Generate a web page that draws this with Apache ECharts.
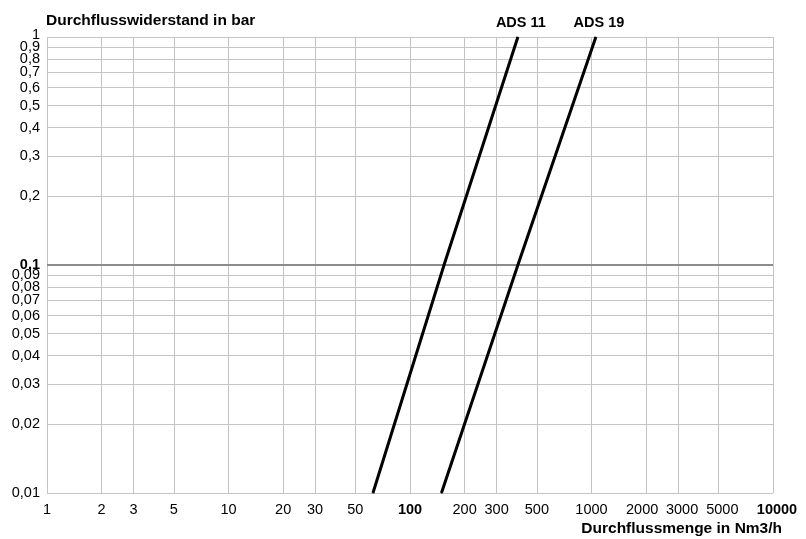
<!DOCTYPE html>
<html><head><meta charset="utf-8">
<script src="https://cdn.jsdelivr.net/npm/echarts@6/dist/echarts.min.js"></script>
<style>html,body{margin:0;padding:0;background:#fff}#c{width:806px;height:539px}</style>
</head><body><div id="c"></div>
<script>
// Tick / gridline values
const xTickValues = [1, 2, 3, 5, 10, 20, 30, 50, 100, 200, 300, 500, 1000, 2000, 3000, 5000, 10000];
const yTickValues = [0.01, 0.02, 0.03, 0.04, 0.05, 0.06, 0.07, 0.08, 0.09, 0.1, 0.2, 0.3, 0.4, 0.5, 0.6, 0.7, 0.8, 0.9, 1];
const boldXLabels = [100, 10000];
const boldYLabels = [0.1];
const referencePressure = 0.1;

// Series (flow in Nm3/h, pressure drop in bar)
const seriesNames = ['ADS 11', 'ADS 19'];
const ads11Flow = [62.5, 154, 393];
const ads11Pressure = [0.01, 0.1, 1];
const ads19Flow = [149, 393, 1057];
const ads19Pressure = [0.01, 0.1, 1];

// Titles
const yTitle = 'Durchflusswiderstand in bar';
const xTitle = 'Durchflussmenge in Nm3/h';

const FONT = "'Liberation Sans', Arial, Helvetica, sans-serif";
const LABEL_SIZE = 14.5;
const TITLE_SIZE = 15.5;
const fmt = v => String(v).replace('.', ',');

// small nudges of crowded labels (styling only)
const xLabelStyle = { 2000: 'sl', 3000: 'sr', 5000: 'sr', 10000: 'br' };
const yLabelStyle = { 1: 'up', 0.1: 'b' };

// labels split over two overlaid axes so the crowded ones are not auto-hidden
const yLabelsA = yTickValues.filter((v, i) => (yTickValues.length - 1 - i) % 2 === 0);
const yLabelsB = yTickValues.filter((v, i) => (yTickValues.length - 1 - i) % 2 === 1);

function buildData(xs, ys, name) {
  return xs.map((x, i) => {
    const item = { value: [x, ys[i]] };
    if (i === xs.length - 1) {
      item.label = {
        show: true, formatter: name, position: 'top', distance: 6, offset: [3, 0],
        fontFamily: FONT, fontSize: TITLE_SIZE - 1, fontWeight: 'bold', color: '#000'
      };
    }
    return item;
  });
}

const baseRich = { fontFamily: FONT, fontSize: LABEL_SIZE, color: '#000' };
function yLabel(values) {
  return {
    customValues: values, margin: 7, fontFamily: FONT, fontSize: LABEL_SIZE, color: '#000',
    showMinLabel: true, showMaxLabel: true, hideOverlap: false,
    formatter: v => yLabelStyle[v] ? '{' + yLabelStyle[v] + '|' + fmt(v) + '}' : fmt(v),
    rich: {
      b: Object.assign({}, baseRich, { fontWeight: 'bold' }),
      up: Object.assign({}, baseRich, { padding: [0, 0, 4, 0] })
    }
  };
}
function yAxisDef(values, withGrid) {
  return {
    type: 'log', logBase: 10, min: 0.01, max: 1, position: 'left', offset: 0,
    axisLine: { show: false },
    axisTick: { show: false, customValues: withGrid ? yTickValues : values },
    axisLabel: yLabel(values),
    splitLine: withGrid
      ? { show: true, showMinLine: true, showMaxLine: true, lineStyle: { color: '#c4c4c4', width: 1 } }
      : { show: false }
  };
}

const chart = echarts.init(document.getElementById('c'), null, { renderer: 'canvas' });
chart.setOption({
  animation: false,
  backgroundColor: '#fff',
  textStyle: { fontFamily: FONT },
  title: [
    { text: yTitle, left: 46, top: 13, padding: 0, textStyle: { fontFamily: FONT, fontSize: TITLE_SIZE, fontWeight: 'bold', color: '#000' } },
    { text: xTitle, right: 24, top: 521, padding: 0, textStyle: { fontFamily: FONT, fontSize: TITLE_SIZE, fontWeight: 'bold', color: '#000' } }
  ],
  grid: { left: 47, top: 37, width: 726, height: 456, containLabel: false, outerBoundsMode: 'none' },
  xAxis: {
    type: 'log', logBase: 10, min: 1, max: 10000,
    axisLine: { show: false },
    axisTick: { show: false, customValues: xTickValues },
    axisLabel: {
      customValues: xTickValues, margin: 9, fontFamily: FONT, fontSize: LABEL_SIZE, color: '#000',
      showMinLabel: true, showMaxLabel: true, hideOverlap: false,
      formatter: v => {
        const st = xLabelStyle[v] || (boldXLabels.includes(v) ? 'b' : null);
        return st ? '{' + st + '|' + v + '}' : String(v);
      },
      rich: {
        b: Object.assign({}, baseRich, { fontWeight: 'bold' }),
        br: Object.assign({}, baseRich, { fontWeight: 'bold', padding: [0, 0, 0, 8] }),
        sl: Object.assign({}, baseRich, { padding: [0, 8, 0, 0] }),
        sr: Object.assign({}, baseRich, { padding: [0, 0, 0, 8] })
      }
    },
    splitLine: { show: true, showMinLine: true, showMaxLine: true, lineStyle: { color: '#c4c4c4', width: 1 } }
  },
  yAxis: [yAxisDef(yLabelsA, true), yAxisDef(yLabelsB, false)],
  series: [
    {
      name: seriesNames[0], type: 'line', yAxisIndex: 0, data: buildData(ads11Flow, ads11Pressure, seriesNames[0]),
      showSymbol: true, symbol: 'circle', symbolSize: 1, itemStyle: { color: '#000' },
      lineStyle: { color: '#000', width: 3 }, z: 5, clip: false,
      markLine: {
        silent: true, symbol: 'none', label: { show: false },
        lineStyle: { color: '#8c8c8c', width: 2, type: 'solid' },
        data: [{ yAxis: referencePressure }], z: 3
      }
    },
    {
      name: seriesNames[1], type: 'line', yAxisIndex: 0, data: buildData(ads19Flow, ads19Pressure, seriesNames[1]),
      showSymbol: true, symbol: 'circle', symbolSize: 1, itemStyle: { color: '#000' },
      lineStyle: { color: '#000', width: 3 }, z: 5, clip: false
    }
  ]
});
</script></body></html>
